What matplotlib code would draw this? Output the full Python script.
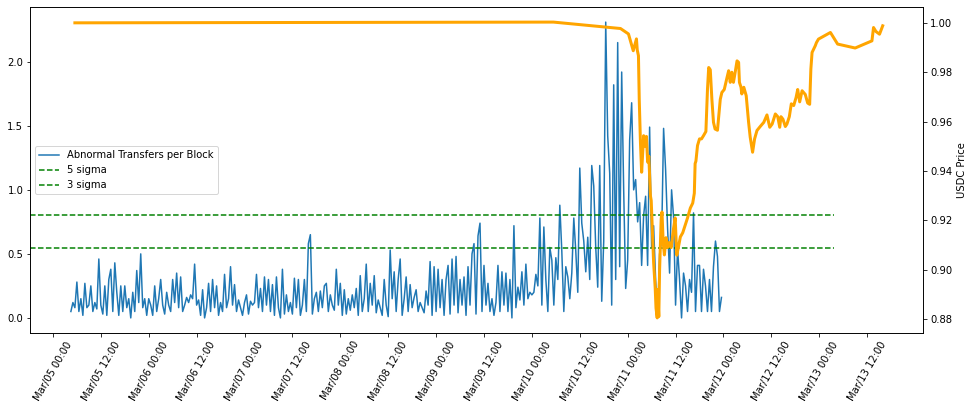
import numpy as np
import pandas as pd
import matplotlib
matplotlib.use("Agg")
import matplotlib.pyplot as plt
import matplotlib.dates as mdates

# abnormal transfers per block, 30 min steps starting Mar 5 04:30
abnormal_a = [0.05, 0.12, 0.08, 0.28, 0.05, 0.15, 0.02, 0.27, 0.08, 0.10,
              0.25, 0.05, 0.12, 0.07, 0.46, 0.10, 0.03, 0.25, 0.02, 0.30,
              0.38, 0.05, 0.43, 0.20, 0.02, 0.25, 0.05, 0.25, 0.08, 0.15,
              0.00, 0.20, 0.05, 0.37, 0.12, 0.50, 0.08, 0.15, 0.02, 0.15,
              0.10, 0.02, 0.25, 0.05, 0.15, 0.30, 0.10, 0.03, 0.20, 0.10,
              0.05, 0.30, 0.12, 0.35]
abnormal_b = [0.08, 0.32, 0.05, 0.10, 0.16, 0.12, 0.18, 0.15, 0.42, 0.10,
              0.14, 0.02, 0.22, 0.00, 0.08, 0.27, 0.05, 0.30, 0.08, 0.25,
              0.02, 0.12, 0.05, 0.34, 0.08, 0.15, 0.40, 0.10, 0.26, 0.05,
              0.14, 0.08, 0.02, 0.12, 0.18, 0.03, 0.13, 0.10, 0.12, 0.34,
              0.08, 0.23, 0.05, 0.32, 0.10, 0.30, 0.05, 0.26, 0.02, 0.32,
              0.08, 0.00, 0.38, 0.03, 0.18]
abnormal_c = [0.05, 0.12, 0.03, 0.31, 0.08, 0.30, 0.02, 0.10, 0.30, 0.05,
              0.58, 0.65, 0.03, 0.15, 0.20, 0.05, 0.21, 0.08, 0.25, 0.27,
              0.05, 0.18, 0.10, 0.06, 0.38, 0.10, 0.27, 0.02, 0.22, 0.03,
              0.15, 0.06, 0.18, 0.08, 0.23, 0.02, 0.33, 0.05, 0.15, 0.42,
              0.05, 0.27, 0.10, 0.33, 0.04, 0.14, 0.08, 0.02, 0.30, 0.10,
              0.01, 0.53, 0.15]
abnormal_d = [0.36, 0.05, 0.30, 0.46, 0.02, 0.15, 0.32, 0.05, 0.26, 0.08,
              0.16, 0.22, 0.05, 0.12, 0.08, 0.04, 0.21, 0.10, 0.44, 0.02,
              0.40, 0.05, 0.38, 0.08, 0.30, 0.02, 0.30, 0.41, 0.03, 0.46,
              0.10, 0.48, 0.04, 0.30, 0.10, 0.32, 0.02, 0.40, 0.10, 0.50,
              0.58, 0.03, 0.64, 0.74, 0.05, 0.41, 0.10, 0.27, 0.05, 0.15,
              0.02, 0.12, 0.41, 0.05, 0.36]
abnormal_e = [0.10, 0.35, 0.05, 0.30, 0.00, 0.72, 0.08, 0.24, 0.14, 0.36,
              0.10, 0.42, 0.15, 0.20, 0.18, 0.20, 0.34, 0.25, 0.78, 0.10,
              0.71, 0.30, 0.05, 0.55, 0.45, 0.10, 0.47, 0.30, 0.88, 0.52,
              0.05, 0.40, 0.32, 0.15, 0.35, 0.78, 0.52, 0.20, 1.17, 0.74,
              0.60, 0.36, 0.63, 0.30, 1.19, 1.03, 0.55, 0.24, 1.19, 0.13,
              0.60, 2.31, 1.42, 1.13, 0.10, 1.82]
abnormal_f = [0.30, 2.15, 0.40, 1.92, 1.00, 0.23, 0.45, 1.39, 1.68, 1.00,
              1.08, 0.75, 0.90, 0.41, 0.80, 0.95, 0.41, 1.49, 0.55, 0.72,
              0.30, 0.00, 0.50, 0.60, 1.48, 1.16, 0.70, 0.35, 1.00, 0.79,
              0.10, 0.54, 0.30, 0.00, 0.35, 0.25, 0.05, 0.30, 0.20, 0.82,
              0.05, 0.41, 0.41, 0.05, 0.38, 0.25, 0.05, 0.30, 0.05, 0.40,
              0.60, 0.48, 0.05, 0.16]
abnormal = abnormal_a + abnormal_b + abnormal_c + abnormal_d + abnormal_e + abnormal_f

sigma5 = 0.80
sigma3 = 0.545

# USDC price: hours after Mar 5 00:00, price
price_hours = [5.5, 125.4, 142.2, 144.2, 145.4, 146.2, 146.4, 146.7, 146.9, 147.2,
               147.5, 148.0, 148.4, 148.7, 149.0, 149.3, 149.7, 149.9, 150.3, 150.5,
               150.9, 151.1, 151.4, 151.5, 151.8, 152.0, 152.4, 152.6, 152.9, 153.2,
               153.6, 154.0, 154.4, 154.9, 155.5, 155.9, 156.3, 156.7, 157.2, 157.8,
               158.4, 159.0, 159.7, 160.3, 160.7, 160.9, 161.1, 161.5, 162.0, 162.5,
               163.0, 163.6, 164.0, 164.3, 164.7, 165.1, 165.5, 165.9, 166.5, 167.2,
               167.6, 168.2, 168.9, 169.3, 169.7, 170.1, 170.5, 171.0, 171.4, 171.8,
               172.0, 172.4, 172.6, 173.1, 173.7, 174.3, 174.7, 175.3, 175.8, 176.4,
               177.2, 178.1, 178.9, 179.6, 180.2, 181.0, 181.6, 182.1, 182.4, 182.9,
               183.5, 183.9, 184.5, 185.0, 185.6, 186.2, 186.6, 187.1, 187.7, 188.5,
               189.1, 189.6, 189.9, 190.2, 191.0, 191.3, 191.8, 194.8, 196.6, 201.0,
               205.2, 205.6, 206.2, 207.1, 207.9]
price = [1.0000, 1.0003, 0.9977, 0.9955, 0.9887, 0.9935, 0.9890, 0.9867, 0.9690, 0.9516,
         0.9395, 0.9543, 0.9500, 0.9540, 0.9436, 0.9460, 0.9300, 0.9280, 0.9112, 0.9030,
         0.8925, 0.8845, 0.8805, 0.8920, 0.8810, 0.9000, 0.9208, 0.9234, 0.9110, 0.9060,
         0.9130, 0.9090, 0.9110, 0.9090, 0.9168, 0.9210, 0.9059, 0.9090, 0.9133, 0.9150,
         0.9180, 0.9210, 0.9250, 0.9270, 0.9310, 0.9430, 0.9440, 0.9503, 0.9530, 0.9530,
         0.9543, 0.9560, 0.9732, 0.9819, 0.9810, 0.9690, 0.9597, 0.9570, 0.9565, 0.9690,
         0.9718, 0.9730, 0.9779, 0.9806, 0.9759, 0.9800, 0.9759, 0.9806, 0.9846, 0.9840,
         0.9759, 0.9739, 0.9712, 0.9739, 0.9705, 0.9597, 0.9537, 0.9476, 0.9530, 0.9564,
         0.9580, 0.9597, 0.9627, 0.9577, 0.9590, 0.9631, 0.9620, 0.9577, 0.9620, 0.9610,
         0.9580, 0.9590, 0.9620, 0.9672, 0.9665, 0.9698, 0.9730, 0.9680, 0.9725, 0.9710,
         0.9675, 0.9670, 0.9813, 0.9880, 0.9907, 0.9920, 0.9934, 0.9961, 0.9914, 0.9898,
         0.9927, 0.9981, 0.9965, 0.9954, 0.9988]

tick_start = "2023-03-05 00:00"
tick_end = "2023-03-13 12:00"

t_abnormal = pd.date_range("2023-03-05 04:30", periods=len(abnormal), freq="30min")
t_price = pd.Timestamp("2023-03-05 00:00") + pd.to_timedelta(price_hours, unit="h")

fig, ax1 = plt.subplots(figsize=(973 / 72, 410 / 72), dpi=72)
fig.subplots_adjust(left=30.3 / 973, right=923.3 / 973, top=1 - 7.3 / 410, bottom=1 - 332.7 / 410)

ax1.plot(t_abnormal, abnormal, color="tab:blue", label="Abnormal Transfers per Block")
ax1.axhline(sigma5, xmax=0.9, color="green", linestyle="--", label="5 sigma")
ax1.axhline(sigma3, xmax=0.9, color="green", linestyle="--", label="3 sigma")
ax1.legend(loc="center left")

ax2 = ax1.twinx()
ax2.plot(t_price, price, color="orange", linewidth=3)
ax2.set_ylabel("USDC Price")

ax1.set_xticks(pd.date_range(tick_start, tick_end, freq="12h"))
ax1.xaxis.set_major_formatter(mdates.DateFormatter("%b/%d %H:%M"))
plt.setp(ax1.get_xticklabels(), rotation=60)

fig.savefig("out.png", dpi=72)
